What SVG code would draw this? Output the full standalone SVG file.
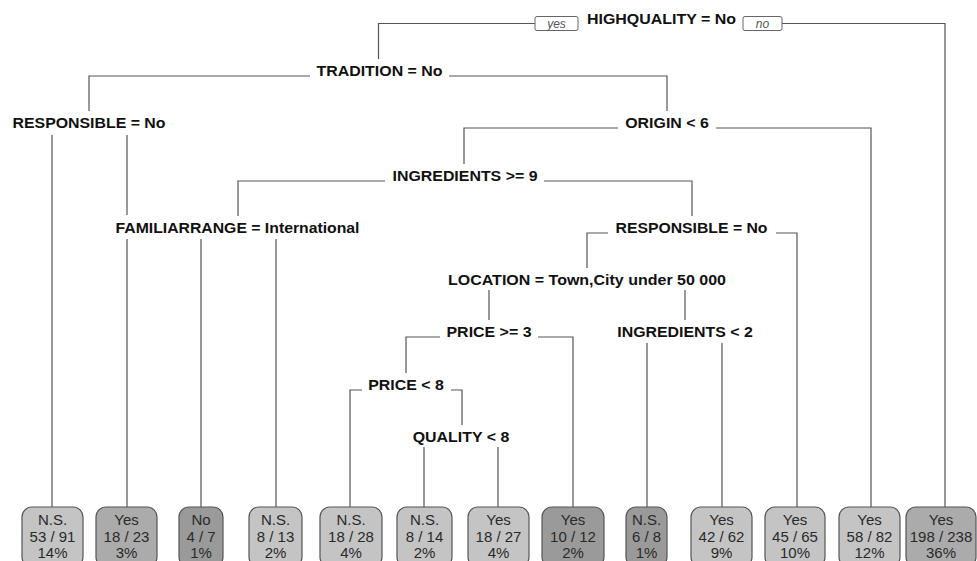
<svg xmlns="http://www.w3.org/2000/svg" width="977" height="561" viewBox="0 0 977 561">
<style>
.split{font-family:"Liberation Sans",Arial,sans-serif;font-weight:bold;font-size:14.5px;fill:#111;text-anchor:middle}
.edge{fill:none;stroke:#555;stroke-width:1.2}
.yn{fill:#fff;stroke:#666;stroke-width:1}
.ynt{font-family:"Liberation Sans",Arial,sans-serif;font-style:italic;font-size:12px;fill:#555;text-anchor:middle}
.leaf rect{stroke:#555;stroke-width:1.2}
.leaf text{font-family:"Liberation Sans",Arial,sans-serif;font-size:15px;fill:#2a2a2a;text-anchor:middle}
.l1{fill:#c4c4c4}.l2{fill:#ababab}.l3{fill:#9a9a9a}
</style>
<rect width="977" height="561" fill="#fff"/>
<g id="connectors">
<path class="edge" d="M378.5 59V23.5H535"/>
<path class="edge" d="M782 23.5H945V507"/>
<path class="edge" d="M310 76H89V111M449 76H667V111"/>
<path class="edge" d="M52 135V507M127 135V215M127 239V507"/>
<path class="edge" d="M618 128H464V164M716 128H871V507"/>
<path class="edge" d="M385 181H238V216M544 181H692V216"/>
<path class="edge" d="M201 239V507M276 239V507"/>
<path class="edge" d="M608 233H587V268M776 233H797V507"/>
<path class="edge" d="M489 290V320M685 290V320"/>
<path class="edge" d="M440 337H406V373M538 337H573V507"/>
<path class="edge" d="M647 343V507M722 343V507"/>
<path class="edge" d="M362 390H350V507M451 390H462V425"/>
<path class="edge" d="M424 447V507M498 447V507"/>
<rect class="yn" x="535" y="16.5" width="43" height="14" rx="2"/>
<text class="ynt" x="556.5" y="27.5">yes</text>
<rect class="yn" x="743" y="16.5" width="39" height="14" rx="2"/>
<text class="ynt" x="762.5" y="27.5">no</text>
</g>
<g id="n-highquality"><text class="split" x="661.5" y="23.5" textLength="149" lengthAdjust="spacingAndGlyphs">HIGHQUALITY = No</text></g>
<g id="n-tradition"><text class="split" x="379.5" y="76" textLength="126" lengthAdjust="spacingAndGlyphs">TRADITION = No</text></g>
<g id="n-responsible1"><text class="split" x="89" y="128" textLength="153" lengthAdjust="spacingAndGlyphs">RESPONSIBLE = No</text></g>
<g id="n-origin"><text class="split" x="667" y="128" textLength="83.5" lengthAdjust="spacingAndGlyphs">ORIGIN &lt; 6</text></g>
<g id="n-ingredients9"><text class="split" x="465" y="181" textLength="145" lengthAdjust="spacingAndGlyphs">INGREDIENTS &gt;= 9</text></g>
<g id="n-familiarrange"><text class="split" x="237.5" y="233" textLength="244" lengthAdjust="spacingAndGlyphs">FAMILIARRANGE = International</text></g>
<g id="n-responsible2"><text class="split" x="691.5" y="233" textLength="152" lengthAdjust="spacingAndGlyphs">RESPONSIBLE = No</text></g>
<g id="n-location"><text class="split" x="587" y="285" textLength="278" lengthAdjust="spacingAndGlyphs">LOCATION = Town,City under 50 000</text></g>
<g id="n-price3"><text class="split" x="489" y="337" textLength="85" lengthAdjust="spacingAndGlyphs">PRICE &gt;= 3</text></g>
<g id="n-ingredients2"><text class="split" x="685" y="337" textLength="135.5" lengthAdjust="spacingAndGlyphs">INGREDIENTS &lt; 2</text></g>
<g id="n-price8"><text class="split" x="406" y="390" textLength="75.5" lengthAdjust="spacingAndGlyphs">PRICE &lt; 8</text></g>
<g id="n-quality8"><text class="split" x="461" y="442" textLength="96.5" lengthAdjust="spacingAndGlyphs">QUALITY &lt; 8</text></g>
<g id="leaf1" class="leaf"><rect class="l1" x="22" y="507" width="61" height="60" rx="10"/><text x="52.5" y="525">N.S.</text><text x="52.5" y="541.5">53 / 91</text><text x="52.5" y="558">14%</text></g>
<g id="leaf2" class="leaf"><rect class="l2" x="96" y="507" width="61" height="60" rx="10"/><text x="126.5" y="525">Yes</text><text x="126.5" y="541.5">18 / 23</text><text x="126.5" y="558">3%</text></g>
<g id="leaf3" class="leaf"><rect class="l3" x="179" y="507" width="44" height="60" rx="10"/><text x="201" y="525">No</text><text x="201" y="541.5">4 / 7</text><text x="201" y="558">1%</text></g>
<g id="leaf4" class="leaf"><rect class="l1" x="249" y="507" width="53" height="60" rx="10"/><text x="275.5" y="525">N.S.</text><text x="275.5" y="541.5">8 / 13</text><text x="275.5" y="558">2%</text></g>
<g id="leaf5" class="leaf"><rect class="l1" x="320" y="507" width="62" height="60" rx="10"/><text x="351" y="525">N.S.</text><text x="351" y="541.5">18 / 28</text><text x="351" y="558">4%</text></g>
<g id="leaf6" class="leaf"><rect class="l1" x="397" y="507" width="55" height="60" rx="10"/><text x="424.5" y="525">N.S.</text><text x="424.5" y="541.5">8 / 14</text><text x="424.5" y="558">2%</text></g>
<g id="leaf7" class="leaf"><rect class="l1" x="468" y="507" width="61" height="60" rx="10"/><text x="498.5" y="525">Yes</text><text x="498.5" y="541.5">18 / 27</text><text x="498.5" y="558">4%</text></g>
<g id="leaf8" class="leaf"><rect class="l3" x="542" y="507" width="62" height="60" rx="10"/><text x="573" y="525">Yes</text><text x="573" y="541.5">10 / 12</text><text x="573" y="558">2%</text></g>
<g id="leaf9" class="leaf"><rect class="l3" x="626" y="507" width="41" height="60" rx="10"/><text x="646.5" y="525">N.S.</text><text x="646.5" y="541.5">6 / 8</text><text x="646.5" y="558">1%</text></g>
<g id="leaf10" class="leaf"><rect class="l1" x="691" y="507" width="61" height="60" rx="10"/><text x="721.5" y="525">Yes</text><text x="721.5" y="541.5">42 / 62</text><text x="721.5" y="558">9%</text></g>
<g id="leaf11" class="leaf"><rect class="l1" x="765" y="507" width="60" height="60" rx="10"/><text x="795" y="525">Yes</text><text x="795" y="541.5">45 / 65</text><text x="795" y="558">10%</text></g>
<g id="leaf12" class="leaf"><rect class="l1" x="839" y="507" width="61" height="60" rx="10"/><text x="869.5" y="525">Yes</text><text x="869.5" y="541.5">58 / 82</text><text x="869.5" y="558">12%</text></g>
<g id="leaf13" class="leaf"><rect class="l2" x="906" y="507" width="70" height="60" rx="10"/><text x="941" y="525">Yes</text><text x="941" y="541.5">198 / 238</text><text x="941" y="558">36%</text></g>
</svg>
